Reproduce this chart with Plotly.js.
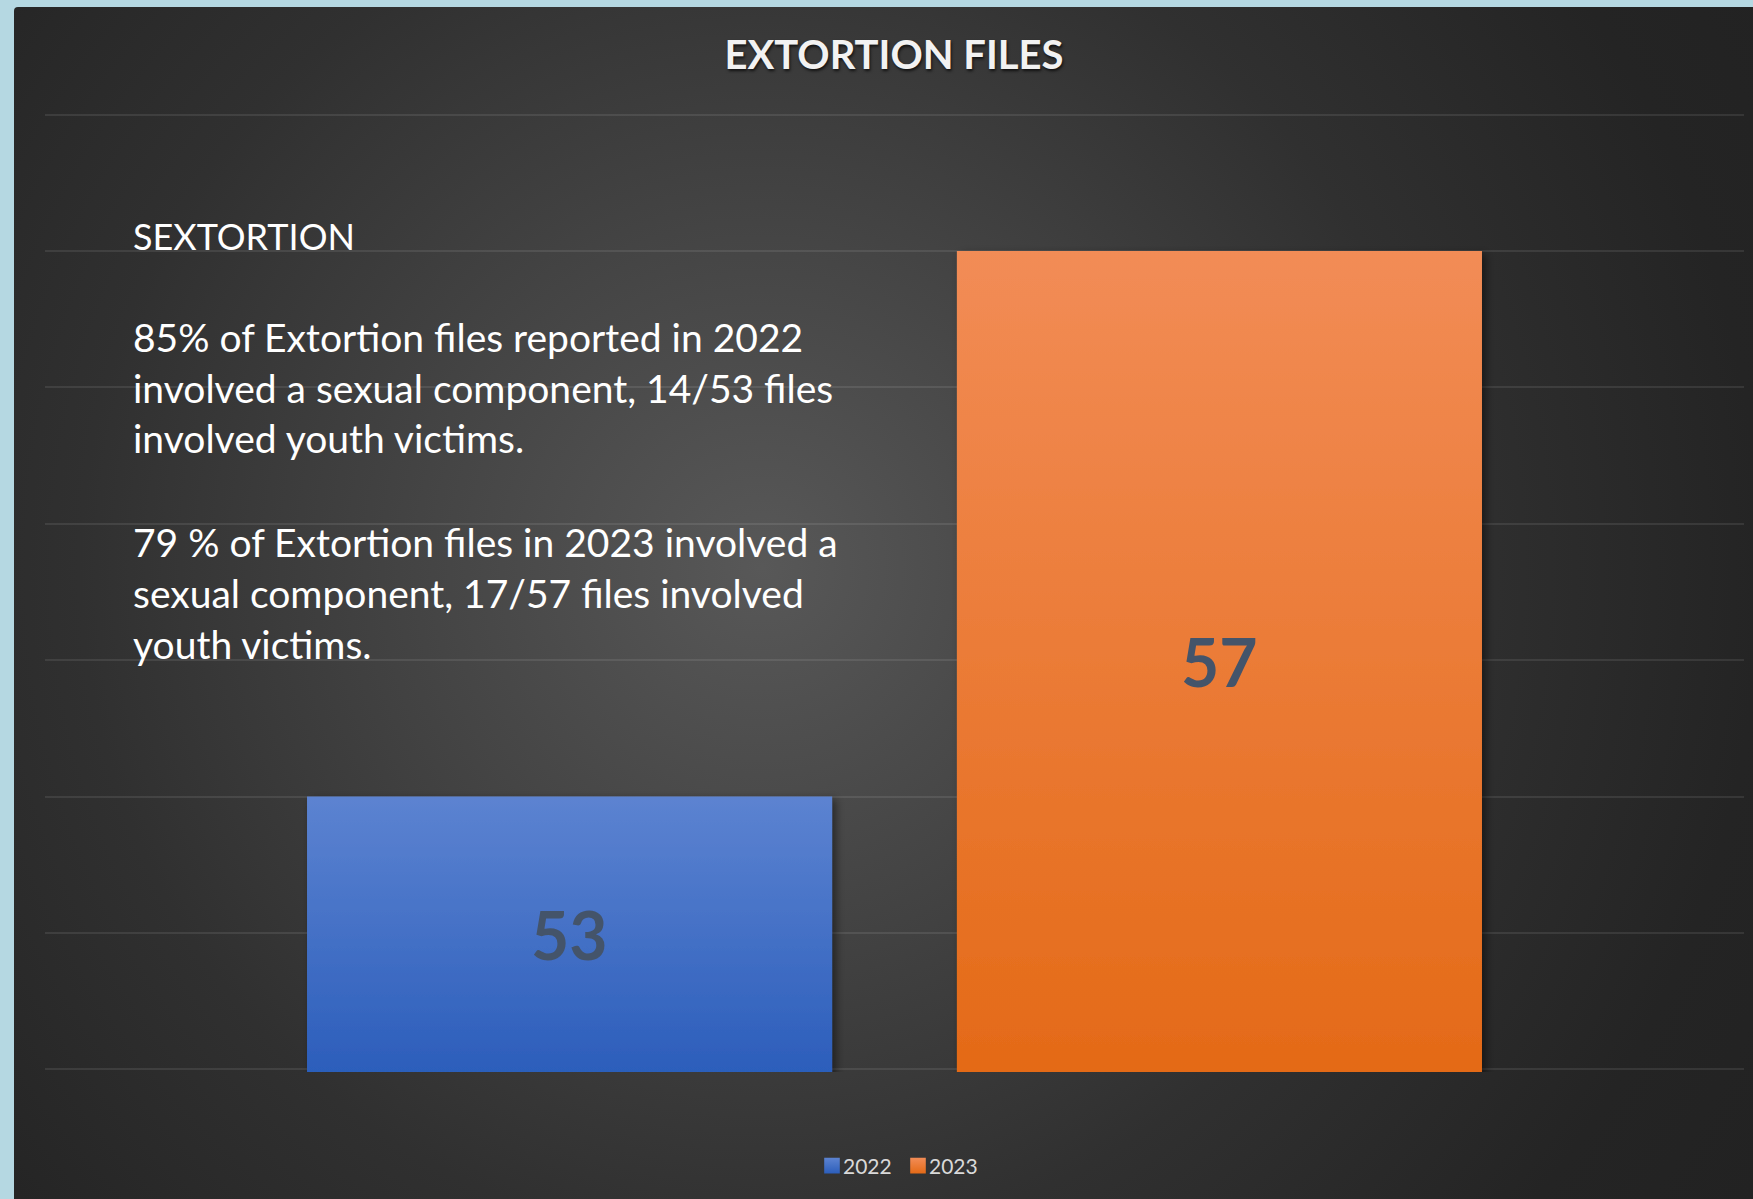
<!DOCTYPE html>
<html>
<head>
<meta charset="utf-8">
<script src="https://cdn.plot.ly/plotly-3.0.1.min.js"></script>
<style>
  html, body { margin: 0; padding: 0; background: #b5d8e2; width: 1753px; height: 1199px; overflow: hidden; }
  #chart {
    position: absolute; left: 14px; top: 7px; width: 1739px; height: 1192px;
    border-top-left-radius: 4px;
    background: radial-gradient(circle at 43% 47%, #585858 0%, #454545 28%, #303030 58%, #242424 85%, #222222 100%);
  }
</style>
</head>
<body>
<div id="chart"></div>
<script>
// ---- data ----
const categories = ["Extortion files"];
const seriesNames = ["2022", "2023"];
const values2022 = [53];
const values2023 = [57];
const chartTitle = "EXTORTION FILES";
const noteHeading = "SEXTORTION";
const noteLines = [
  "85% of Extortion files reported in 2022",
  "involved a sexual component, 14/53 files",
  "involved youth victims.",
  "79 % of Extortion files in 2023 involved a",
  "sexual component, 17/57 files involved",
  "youth victims."
];

// ---- geometry / style ----
const W = 1739, H = 1192;
const yRange = [50.98, 58.02];
const mL = 31, mR = 9, mT = 105, mB = 127;
const plotH = H - mT - mB;
const plotTopAbs = 7 + mT;
const plotBotAbs = plotTopAbs + plotH;
function paperY(absY) { return (plotBotAbs - absY) / plotH; }
function paperX(absX) { return (absX - 14 - mL) / (W - mL - mR); }

const BARGAP = 0.235, BARGROUPGAP = 0.192;
const FONT = "Lato, 'Open Sans', sans-serif";
const labelFont = { family: FONT, size: 66, color: "#44546a", weight: 700 };

const seriesValues = [values2022, values2023];
const baseColors = ["#4472c4", "#ed7d31"];

const traces = seriesValues.map((vals, i) => ({
  type: "bar", name: seriesNames[i], x: categories, y: vals,
  marker: { color: baseColors[i], line: { width: 0 } },
  hoverinfo: "skip"
}));

const annotations = [];
// data labels, centred in the visible part of each bar
const slot = (1 - BARGAP) / seriesValues.length;
seriesValues.forEach((vals, i) => {
  vals.forEach((v, c) => {
    annotations.push({
      text: String(v), xref: "x", yref: "y",
      x: c + (i - (seriesValues.length - 1) / 2) * slot,
      y: (yRange[0] + v) / 2,
      showarrow: false, xanchor: "center", yanchor: "middle", font: labelFont
    });
  });
});

annotations.push({
  text: noteHeading, xref: "paper", yref: "paper",
  x: paperX(131), y: paperY(236), xanchor: "left", yanchor: "middle",
  showarrow: false, font: { family: FONT, size: 36, color: "#ffffff" }
});
const lineYs = [337, 388, 438, 542, 593, 644];
noteLines.forEach((t, i) => {
  annotations.push({
    text: t, xref: "paper", yref: "paper",
    x: paperX(131), y: paperY(lineYs[i]), xanchor: "left", yanchor: "middle",
    showarrow: false, font: { family: FONT, size: 39, color: "#ffffff" }
  });
});

const layout = {
  width: W, height: H,
  paper_bgcolor: "rgba(0,0,0,0)",
  plot_bgcolor: "rgba(0,0,0,0)",
  margin: { l: mL, r: mR, t: mT, b: mB, pad: 0 },
  title: {
    text: chartTitle,
    x: (894 - 14) / W, xanchor: "center",
    yref: "container", y: 1 - (55 - 7) / H, yanchor: "middle",
    font: { family: FONT, size: 40, color: "#f2f2f2", weight: 700,
            shadow: "1px 2px 3px rgba(0,0,0,0.7)" }
  },
  barmode: "group",
  bargap: BARGAP,
  bargroupgap: BARGROUPGAP,
  xaxis: { showticklabels: false, showgrid: false, zeroline: false, showline: false, ticks: "" },
  yaxis: {
    range: yRange, tick0: 51, dtick: 1, showticklabels: false,
    showgrid: true, gridcolor: "rgba(255,255,255,0.09)", gridwidth: 2,
    zeroline: false, showline: false, ticks: ""
  },
  showlegend: true,
  legend: {
    orientation: "h", x: 0.5, xanchor: "center",
    y: paperY(1166), yanchor: "middle",
    font: { family: FONT, size: 21, color: "#d9d9d9" },
    bgcolor: "rgba(0,0,0,0)", itemwidth: 30, tracegroupgap: 0,
    entrywidth: 52
  },
  annotations: annotations
};

Plotly.newPlot("chart", traces, layout, { staticPlot: true, displayModeBar: false }).then(gd => {
  const svg = gd.querySelector("svg.main-svg");
  const NS = "http://www.w3.org/2000/svg";
  let defs = svg.querySelector("defs");
  if (!defs) { defs = document.createElementNS(NS, "defs"); svg.insertBefore(defs, svg.firstChild); }
  const ya = gd._fullLayout.yaxis;
  const yBottom = ya.l2p(yRange[0]);
  function grad(id, c1, c2, y1, y2, units) {
    const g = document.createElementNS(NS, "linearGradient");
    g.setAttribute("id", id);
    if (units) {
      g.setAttribute("gradientUnits", "userSpaceOnUse");
      g.setAttribute("x1", "0"); g.setAttribute("x2", "0");
      g.setAttribute("y1", y1); g.setAttribute("y2", y2);
    } else {
      g.setAttribute("x1", "0"); g.setAttribute("y1", "0"); g.setAttribute("x2", "0"); g.setAttribute("y2", "1");
    }
    [[0, c1], [1, c2]].forEach(([o, c]) => {
      const s = document.createElementNS(NS, "stop");
      s.setAttribute("offset", o); s.setAttribute("stop-color", c);
      g.appendChild(s);
    });
    defs.appendChild(g);
  }
  const stops = [["#5c83d1", "#2c5ebb"], ["#f28c56", "#e46a17"]];
  seriesValues.forEach((vals, i) => {
    grad("barGrad" + i, stops[i][0], stops[i][1], ya.l2p(vals[0]), yBottom, true);
    grad("legGrad" + i, stops[i][0], stops[i][1], 0, 1, false);
  });
  const f = document.createElementNS(NS, "filter");
  f.setAttribute("id", "barShadow");
  f.setAttribute("x", "-10%"); f.setAttribute("y", "-10%"); f.setAttribute("width", "130%"); f.setAttribute("height", "130%");
  const ds = document.createElementNS(NS, "feDropShadow");
  ds.setAttribute("dx", "4"); ds.setAttribute("dy", "3"); ds.setAttribute("stdDeviation", "4");
  ds.setAttribute("flood-color", "#000"); ds.setAttribute("flood-opacity", "0.45");
  f.appendChild(ds); defs.appendChild(f);

  gd.querySelectorAll("g.trace.bars").forEach((tr, i) => {
    tr.querySelectorAll("path").forEach(p => {
      p.style.fill = "url(#barGrad" + i + ")";
      p.setAttribute("filter", "url(#barShadow)");
    });
  });
  // legend: gradient swatches, slightly larger, closer to the text; tighter item spacing
  const items = gd.querySelectorAll("g.legend g.traces");
  const tighten = 11;
  items.forEach((tr, i) => {
    tr.querySelectorAll("g.legendpoints path").forEach(p => {
      p.style.fill = "url(#legGrad" + i + ")";
      const t = p.getAttribute("transform") || "";
      p.setAttribute("transform", t + " translate(9,0) scale(1.3)");
    });
    const tf = tr.getAttribute("transform") || "";
    const m = tf.match(/translate\(\s*([-\d.]+)[ ,]+([-\d.]+)\s*\)/);
    if (m) {
      const nx = parseFloat(m[1]) - tighten * i + tighten * (items.length - 1) / 2;
      tr.setAttribute("transform", "translate(" + nx + "," + m[2] + ")");
    }
  });
});
</script>
</body>
</html>
